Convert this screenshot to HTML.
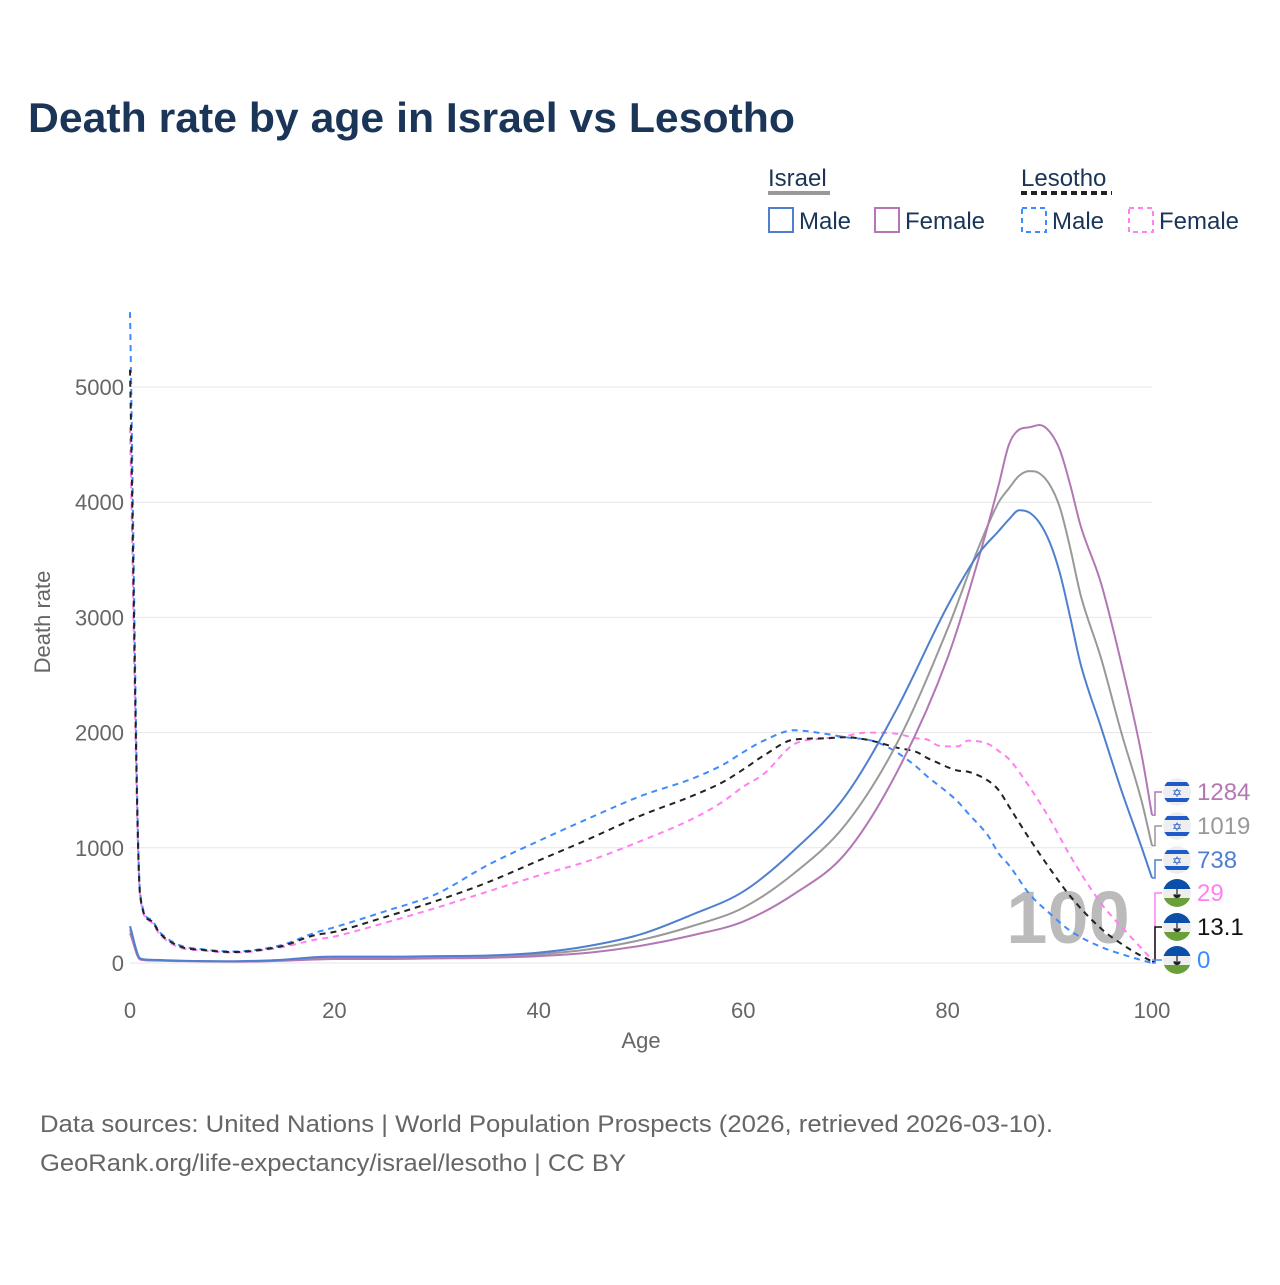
<!DOCTYPE html>
<html><head><meta charset="utf-8"><style>
body{margin:0;background:#fff;font-family:"Liberation Sans",sans-serif;}
svg text{font-family:"Liberation Sans",sans-serif;}
</style></head><body>
<svg id="chart" width="1280" height="1280" viewBox="0 0 1280 1280">
<defs><clipPath id="fc"><circle cx="0" cy="0" r="14"/></clipPath></defs>
<text x="28" y="132" font-size="42" font-weight="bold" fill="#1a3557" textLength="767" lengthAdjust="spacingAndGlyphs">Death rate by age in Israel vs Lesotho</text>
<g font-size="24" fill="#1a3557">
<text x="768" y="186">Israel</text>
<line x1="768" x2="830" y1="193" y2="193" stroke="#999" stroke-width="4"/>
<text x="1021" y="186">Lesotho</text>
<line x1="1021" x2="1112" y1="193" y2="193" stroke="#222" stroke-width="4" stroke-dasharray="6,4"/>
<g><rect x="769" y="208" width="24" height="24" fill="none" stroke="#4f7fcf" stroke-width="2"/><text x="799" y="229">Male</text></g>
<g><rect x="875" y="208" width="24" height="24" fill="none" stroke="#b377b5" stroke-width="2"/><text x="905" y="229">Female</text></g>
<g><rect x="1022" y="208" width="24" height="24" fill="none" stroke="#3d8bff" stroke-width="2" stroke-dasharray="5,4"/><text x="1052" y="229">Male</text></g>
<g><rect x="1129" y="208" width="24" height="24" fill="none" stroke="#ff80f0" stroke-width="2" stroke-dasharray="5,4"/><text x="1159" y="229">Female</text></g>
</g>
<g id="grid"></g>
<text x="1068" y="943" font-size="74" font-weight="bold" fill="#bbb" text-anchor="middle">100</text>
<g id="series"></g>
<g id="labels"></g>
<text x="641" y="1048" font-size="22" fill="#666" text-anchor="middle">Age</text>
<text transform="translate(50,622) rotate(-90)" font-size="22" fill="#666" text-anchor="middle">Death rate</text>
<text x="40" y="1132" font-size="24" fill="#666" textLength="1013" lengthAdjust="spacingAndGlyphs">Data sources: United Nations | World Population Prospects (2026, retrieved 2026-03-10).</text>
<text x="40" y="1171" font-size="24" fill="#666" textLength="586" lengthAdjust="spacingAndGlyphs">GeoRank.org/life-expectancy/israel/lesotho | CC BY</text>
</svg>
<script>
const xTicks=[0,20,40,60,80,100];
const yTicks=[0,1000,2000,3000,4000,5000];
const isrAges=[0,1,2,5,10,12,15,18,20,25,30,35,40,45,50,55,60,65,70,75,80,83,85,86,87,88,89,90,91,92,93,95,97,99,100];
const isrMale=[320,40,28,20,15,18,28,50,55,55,60,65,90,150,250,420,620,980,1450,2200,3100,3550,3750,3850,3930,3910,3820,3650,3380,3000,2600,2050,1500,1000,738];
const isrTotal=[290,35,25,18,13,15,24,40,45,45,50,55,75,120,200,320,480,780,1200,1900,2900,3600,4000,4120,4230,4270,4250,4150,3950,3600,3200,2650,2000,1400,1019];
const isrFemale=[260,30,22,16,12,13,20,30,35,35,40,45,60,90,150,240,360,600,950,1650,2650,3500,4150,4500,4630,4650,4670,4610,4450,4150,3800,3300,2600,1800,1284];
const lesAges=[0,1,2,3,5,7,10,12,15,18,20,25,30,35,40,45,50,55,58,60,62,65,68,70,72,73,75,77,78,79,80,81,82,84,85,86,88,90,92,95,98,100];
const lesMale=[5650,600,380,260,150,120,100,110,160,260,310,450,600,850,1060,1260,1450,1600,1720,1830,1930,2020,1990,1960,1940,1920,1830,1700,1620,1550,1480,1400,1300,1100,950,850,600,430,280,140,50,0];
const lesTotal=[5150,580,370,250,140,115,95,105,150,240,270,400,540,700,890,1080,1280,1450,1570,1680,1800,1940,1950,1960,1940,1920,1870,1830,1780,1740,1700,1670,1660,1580,1500,1360,1080,820,580,300,110,13.1];
const lesFemale=[4650,570,360,240,130,110,90,100,140,200,230,350,480,620,760,890,1060,1250,1400,1530,1640,1900,1950,1970,2000,2000,1990,1950,1940,1890,1880,1880,1930,1900,1840,1770,1530,1250,930,520,220,29];
const endLabels=["1284","1019","738","29","13.1","0"];
const NS="http://www.w3.org/2000/svg";
const X=a=>130+a*10.22, Y=v=>963-v*0.1152;
function mk(t,at,p){const e=document.createElementNS(NS,t);for(const k in at)e.setAttribute(k,at[k]);p.appendChild(e);return e;}
const grid=document.getElementById('grid');
yTicks.forEach(v=>{
 const l=mk('line',{x1:130,x2:1152,y1:Y(v),y2:Y(v),stroke:'#e6e6e6','stroke-width':1},grid);
 
 
 const t=mk('text',{x:124,y:Y(v)+8,'font-size':22,fill:'#666','text-anchor':'end'},grid);t.textContent=v;
 
 
});
xTicks.forEach(a=>{
 const t=mk('text',{x:X(a),y:1018,'font-size':22,fill:'#666','text-anchor':'middle'},grid);t.textContent=a;
 
 
});
// monotone cubic (Fritsch-Carlson)
function path(ages,vals){
 const xs=ages.map(X), ys=vals.map(Y), n=xs.length;
 const d=[],m=new Array(n);
 for(let i=0;i<n-1;i++)d.push((ys[i+1]-ys[i])/(xs[i+1]-xs[i]));
 m[0]=d[0];m[n-1]=d[n-2];
 for(let i=1;i<n-1;i++){m[i]=(d[i-1]*d[i]<=0)?0:(d[i-1]+d[i])/2;}
 for(let i=0;i<n-1;i++){
  if(d[i]===0){m[i]=0;m[i+1]=0;continue;}
  const a=m[i]/d[i],b=m[i+1]/d[i],s=a*a+b*b;
  if(s>9){const t=3/Math.sqrt(s);m[i]=t*a*d[i];m[i+1]=t*b*d[i];}
 }
 let p='M'+xs[0]+','+ys[0];
 for(let i=0;i<n-1;i++){
  const h=(xs[i+1]-xs[i])/3;
  p+=' C'+(xs[i]+h)+','+(ys[i]+m[i]*h)+' '+(xs[i+1]-h)+','+(ys[i+1]-m[i+1]*h)+' '+xs[i+1]+','+ys[i+1];
 }
 return p;
}
const ser=document.getElementById('series');
const defs=[
 [lesAges,lesFemale,'#ff80f0','6,5','line-lesotho-female'],
 [lesAges,lesMale,'#3d8bff','6,5','line-lesotho-male'],
 [lesAges,lesTotal,'#222','6,5','line-lesotho-total'],
 [isrAges,isrTotal,'#999',null,'line-israel-total'],
 [isrAges,isrFemale,'#b377b5',null,'line-israel-female'],
 [isrAges,isrMale,'#4f7fcf',null,'line-israel-male']];
defs.forEach(s=>{
 const at={d:path(s[0],s[1]),fill:'none',stroke:s[2],'stroke-width':2};
 if(s[3])at['stroke-dasharray']=s[3];
 const e=mk('path',at,ser);
 
 
});
const lab=document.getElementById('labels');
const ends=[[isrFemale,'#b377b5',1,792],[isrTotal,'#999',1,826],[isrMale,'#4f7fcf',1,860],[lesFemale,'#ff80f0',0,893],[lesTotal,'#111',0,927],[lesMale,'#3d8bff',0,960]];
ends.forEach((e,i)=>{
 const v=e[0][e[0].length-1];
 mk('polyline',{points:`1152,${Y(v)} 1155,${Y(v)} 1155,${e[3]} 1162,${e[3]}`,fill:'none',stroke:e[1],'stroke-width':1.5},lab);
 const g=mk('g',{transform:`translate(1177,${e[3]})`},lab);
 
 
 const gi=mk('g',{'clip-path':'url(#fc)'},g);
 mk('circle',{cx:0,cy:0,r:14,fill:'#eee'},gi);
 if(e[2]){
  mk('rect',{x:-14,y:-10,width:28,height:4,fill:'#1f5bc8'},gi);
  mk('rect',{x:-14,y:6,width:28,height:4,fill:'#1f5bc8'},gi);
  const s=mk('text',{x:0,y:5,'font-size':12,fill:'#1f5bc8','text-anchor':'middle'},gi);s.textContent='✡';
 }else{
  mk('rect',{x:-14,y:-14,width:28,height:10,fill:'#0a4fa8'},gi);
  mk('rect',{x:-14,y:5,width:28,height:10,fill:'#6a9f3a'},gi);
  mk('path',{d:'M0,-4 L0,1 M-3,2 A3,2.5 0 0 0 3,2 Z',stroke:'#222','stroke-width':1.2,fill:'#222'},gi);
 }
 const t=mk('text',{x:1197,y:e[3]+8,'font-size':24,fill:e[1]},lab);t.textContent=endLabels[i];
 
 
});
</script>
</body></html>
